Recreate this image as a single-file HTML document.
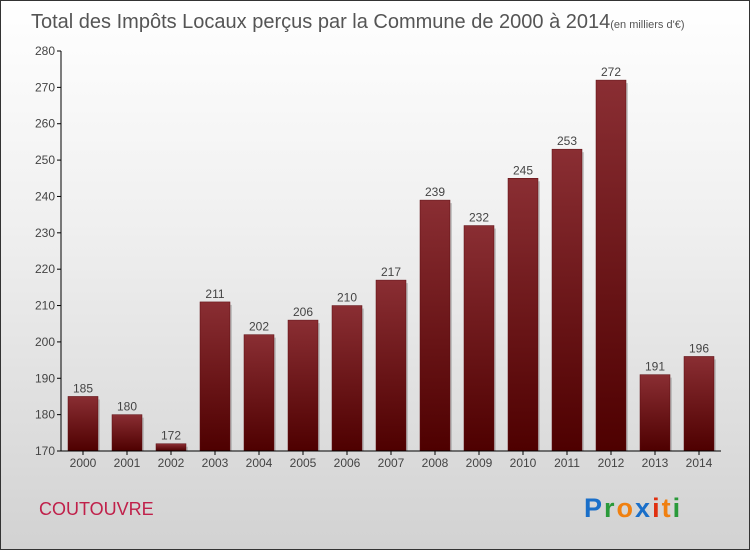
<!DOCTYPE html>
<html><head><meta charset="utf-8"><style>
body{margin:0;width:750px;height:550px;overflow:hidden;font-family:"Liberation Sans",sans-serif}
#wrap{position:absolute;left:0;top:0;width:748px;height:548px;border:1px solid #333;background:linear-gradient(#ffffff,#f0f0f0 40%,#d2d2d2);}
</style></head><body>
<div id="wrap">
<svg width="750" height="550">
<defs>
<linearGradient id="bv" x1="0" y1="0" x2="0" y2="1"><stop offset="0" stop-color="#8a2e33"/><stop offset="1" stop-color="#4e0000"/></linearGradient></defs>
<text x="30" y="27" font-size="20" fill="#555">Total des Impôts Locaux perçus par la Commune de 2000 à 2014<tspan font-size="11">(en milliers d'€)</tspan></text>
<g id="bars"></g><g id="axes"></g>
<text x="38" y="514" font-size="18" fill="#c0204a">COUTOUVRE</text>
<text x="583" y="516" font-size="27" font-weight="bold" letter-spacing="2"><tspan fill="#1a6fc9">P</tspan><tspan fill="#2a9a3a">r</tspan><tspan fill="#f08010">o</tspan><tspan fill="#1a6fc9">x</tspan><tspan fill="#e03010">i</tspan><tspan fill="#f08010">t</tspan><tspan fill="#2a9a3a">i</tspan></text>
</svg></div>
<script>
const years=["2000","2001","2002","2003","2004","2005","2006","2007","2008","2009","2010","2011","2012","2013","2014"];
const values=[185,180,172,211,202,206,210,217,239,232,245,253,272,191,196];
const ticks=[170,180,190,200,210,220,230,240,250,260,270,280];
const NS="http://www.w3.org/2000/svg";
const y=v=>450-(v-170)*400/110;
const x=i=>82+i*44;
function mk(t,a,p){const e=document.createElementNS(NS,t);for(const k in a)e.setAttribute(k,a[k]);p.appendChild(e);return e;}
const bars=document.getElementById('bars'),axes=document.getElementById('axes');
ticks.forEach(t=>{
 const tk=mk('line',{x1:56,x2:60,y1:y(t),y2:y(t),stroke:'#000'},axes);
 
 
 const tx=mk('text',{x:54,y:y(t)+4,'text-anchor':'end','font-size':12,fill:'#444'},axes);
 tx.textContent=t;
 
 
});
values.forEach((v,i)=>{
 const s=mk('rect',{x:x(i)-13,y:y(v)+3,width:30,height:450-y(v)-3,fill:'#999',opacity:0.5},bars);
 
 
 const r=mk('rect',{x:x(i)-15,y:y(v),width:30,height:450-y(v),fill:'url(#bv)',stroke:'#5a0a0f','stroke-width':0.5},bars);
 
 
 const t=mk('text',{x:x(i),y:y(v)-4,'text-anchor':'middle','font-size':12,fill:'#444'},bars);
 t.textContent=v;
 
 
 const tk=mk('line',{x1:x(i),x2:x(i),y1:450,y2:454,stroke:'#000'},axes);
 
 
 const xl=mk('text',{x:x(i),y:466,'text-anchor':'middle','font-size':12,fill:'#444'},axes);
 xl.textContent=years[i];
 
 
});
const ya=mk('line',{x1:60,x2:60,y1:50,y2:450,stroke:'#000'},axes);


const xa=mk('line',{x1:60,x2:720,y1:450,y2:450,stroke:'#000'},axes);


</script>
</body></html>
